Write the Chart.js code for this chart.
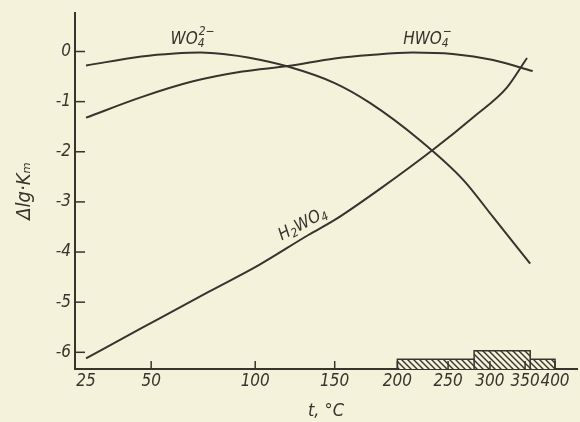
<!DOCTYPE html>
<html><head><meta charset="utf-8">
<script src="https://cdn.jsdelivr.net/npm/chart.js@4/dist/chart.umd.min.js"></script>
<style>html,body{margin:0;padding:0;background:#f6f3df;}#wrap{width:580px;height:422px;position:relative;}canvas{display:block;}</style>
</head><body><div id="wrap"><canvas id="c" width="580" height="422" style="width:580px;height:422px"></canvas></div>
<script>
// ---- data (temperatures in °C, values = Δlg·Km) ----
const tickTemps = [25, 50, 100, 150, 200, 250, 300, 350, 400];
const yTicks = [0, -1, -2, -3, -4, -5, -6];

const wo4Temps = [25, 46, 60, 72, 85, 96, 119, 150, 177, 221, 267, 304, 358];
const wo4Vals  = [-0.28, -0.10, -0.04, -0.02, -0.06, -0.12, -0.30, -0.63, -1.03, -1.77, -2.56, -3.30, -4.23];

const hwo4Temps = [25, 46, 68, 93, 119, 150, 177, 214, 255, 304, 362];
const hwo4Vals  = [-1.32, -0.91, -0.60, -0.40, -0.29, -0.14, -0.07, -0.02, -0.05, -0.17, -0.39];

const h2wo4Temps = [25, 46, 76, 102, 132, 150, 185, 236, 279, 323, 353];
const h2wo4Vals  = [-6.12, -5.52, -4.79, -4.26, -3.66, -3.36, -2.74, -1.93, -1.31, -0.72, -0.13];

// experimental temperature ranges (hatched bars on the axis)
const rangeLowTemps = [200, 400];
const rangeLowTop = -6.14;
const rangeHighTemps = [280, 358];
const rangeHighTop = -5.97;

// ---- axis geometry (reciprocal temperature scale) ----
const yMin = -6.333, yMax = 0.768;
const tAxisLeft = 21.15, tAxisRight = 442.2;
const inv = t => 1000 / (t + 273.15);

const ink = '#35342d';
const bg = '#f5f2dc';
const fontFam = "'DejaVu Sans Condensed','Liberation Sans Narrow','DejaVu Sans',sans-serif";

function pts(ts, vs) { return ts.map((t, i) => ({x: inv(t), y: vs[i]})); }
function rect(ts, top) {
  return [{x: inv(ts[0]), y: yMin}, {x: inv(ts[0]), y: top}, {x: inv(ts[1]), y: top}, {x: inv(ts[1]), y: yMin}];
}
function hatch() {
  const n = 6;
  const c = document.createElement('canvas'); c.width = c.height = n;
  const g = c.getContext('2d');
  g.fillStyle = bg; g.fillRect(0, 0, n, n);
  g.strokeStyle = ink; g.lineWidth = 1.4;
  g.beginPath(); g.moveTo(-1, -1); g.lineTo(n + 1, n + 1);
  g.moveTo(-1, n - 1); g.lineTo(1, n + 1); g.moveTo(n - 1, -1); g.lineTo(n + 1, 1);
  g.stroke();
  return g.createPattern(c, 'repeat');
}
const pat = hatch();

const curveStyle = {borderColor: ink, borderWidth: 2, pointRadius: 0, fill: false, cubicInterpolationMode: 'monotone', order: 1};
const rectStyle = {borderColor: ink, borderWidth: 1.5, pointRadius: 0, tension: 0, backgroundColor: pat, fill: {value: yMin}};

// formula labels: anchor in data units, parts rendered with sub/superscripts
const formulaLabels = [
  {t: 68, v: 0.27, rot: 0, parts: [['WO', 0], ['4', 1], ['2−', 2]]},
  {t: 228, v: 0.27, rot: 0, parts: [['HWO', 0], ['4', 1], ['−', 2]]},
  {t: 128, v: -3.42, rot: -28, parts: [['H', 0], ['2', 1], ['WO', 0], ['4', 1]]}
];

const bgPlugin = {
  id: 'bg',
  beforeDraw(chart) {
    const c = chart.ctx; c.save(); c.fillStyle = bg; c.fillRect(0, 0, chart.width, chart.height); c.restore();
  }
};

const decoPlugin = {
  id: 'deco',
  afterDraw(chart) {
    const c = chart.ctx, xs = chart.scales.x, ys = chart.scales.y, a = chart.chartArea;
    c.save();
    c.strokeStyle = ink; c.lineWidth = 1.5;
    // inward tick marks
    xs.ticks.forEach((tk, i) => {
      if (tickTemps[i] === 25) return;
      const px = xs.getPixelForValue(tk.value);
      c.beginPath(); c.moveTo(px, a.bottom); c.lineTo(px, a.bottom - 8); c.stroke();
    });
    ys.ticks.forEach(tk => {
      const py = ys.getPixelForValue(tk.value);
      c.beginPath(); c.moveTo(a.left, py); c.lineTo(a.left + 10, py); c.stroke();
    });
    // formula labels
    c.fillStyle = ink;
    formulaLabels.forEach(L => {
      const px = xs.getPixelForValue(inv(L.t)), py = ys.getPixelForValue(L.v);
      const big = 'italic 17px ' + fontFam, small = 'italic 12px ' + fontFam;
      let w = 0, lastSubX = 0;
      L.parts.forEach(([s, k]) => {
        c.font = k ? small : big;
        if (k === 2) { w = Math.max(w, lastSubX + c.measureText(s).width); return; }
        if (k === 1) lastSubX = w;
        w += c.measureText(s).width;
      });
      c.translate(px, py); c.rotate(L.rot * Math.PI / 180);
      c.textBaseline = 'alphabetic'; c.textAlign = 'left';
      let x = -w / 2; lastSubX = x;
      L.parts.forEach(([s, k]) => {
        c.font = k ? small : big;
        if (k === 2) { c.fillText(s, lastSubX + 1, -3); return; }
        if (k === 1) { lastSubX = x; c.fillText(s, x, 9); }
        else c.fillText(s, x, 6);
        x += c.measureText(s).width;
      });
      c.setTransform(1, 0, 0, 1, 0, 0);
    });
    c.restore();
  }
};

new Chart(document.getElementById('c'), {
  type: 'line',
  data: {
    datasets: [
      Object.assign({label: 'WO4 2-', data: pts(wo4Temps, wo4Vals)}, curveStyle),
      Object.assign({label: 'HWO4 -', data: pts(hwo4Temps, hwo4Vals)}, curveStyle),
      Object.assign({label: 'H2WO4', data: pts(h2wo4Temps, h2wo4Vals)}, curveStyle),
      Object.assign({label: 'range high', data: rect(rangeHighTemps, rangeHighTop), order: 2}, rectStyle),
      Object.assign({label: 'range low', data: rect(rangeLowTemps, rangeLowTop), order: 3}, rectStyle)
    ]
  },
  options: {
    responsive: false,
    maintainAspectRatio: false,
    animation: false,
    devicePixelRatio: 1,
    layout: {padding: {left: 0, right: 3, top: 13, bottom: 0}},
    plugins: {legend: {display: false}, tooltip: {enabled: false}},
    scales: {
      x: {
        type: 'linear', reverse: true,
        min: inv(tAxisRight), max: inv(tAxisLeft),
        afterBuildTicks: s => { s.ticks = tickTemps.map(t => ({value: inv(t)})); },
        afterFit: s => { s.height = 53; s.paddingLeft = 0; s.paddingRight = 0; },
        grid: {display: true, drawOnChartArea: false, drawTicks: false},
        border: {display: true, color: ink, width: 2},
        ticks: {
          autoSkip: false, maxRotation: 0, minRotation: 0, padding: 2, color: ink,
          font: {family: fontFam, size: 17, style: 'italic'},
          callback: (v, i) => String(tickTemps[i])
        },
        title: {display: true, text: 't, °C', color: ink, padding: {top: 0, bottom: 0},
          font: {family: fontFam, size: 18, style: 'italic'}}
      },
      y: {
        type: 'linear', min: yMin, max: yMax,
        afterBuildTicks: s => { s.ticks = yTicks.map(v => ({value: v})); },
        afterFit: s => { s.width = 75; s.paddingTop = 0; s.paddingBottom = 0; },
        grid: {display: true, drawOnChartArea: false, drawTicks: false},
        border: {display: true, color: ink, width: 2},
        ticks: {
          padding: 4, color: ink,
          font: {family: fontFam, size: 17, style: 'italic'},
          callback: v => String(v)
        },
        title: {display: true, text: 'Δlg·Kₘ', color: ink, padding: {top: 13, bottom: 0},
          font: {family: fontFam, size: 20, style: 'italic'}}
      }
    }
  },
  plugins: [bgPlugin, decoPlugin]
});
</script>
</body></html>
